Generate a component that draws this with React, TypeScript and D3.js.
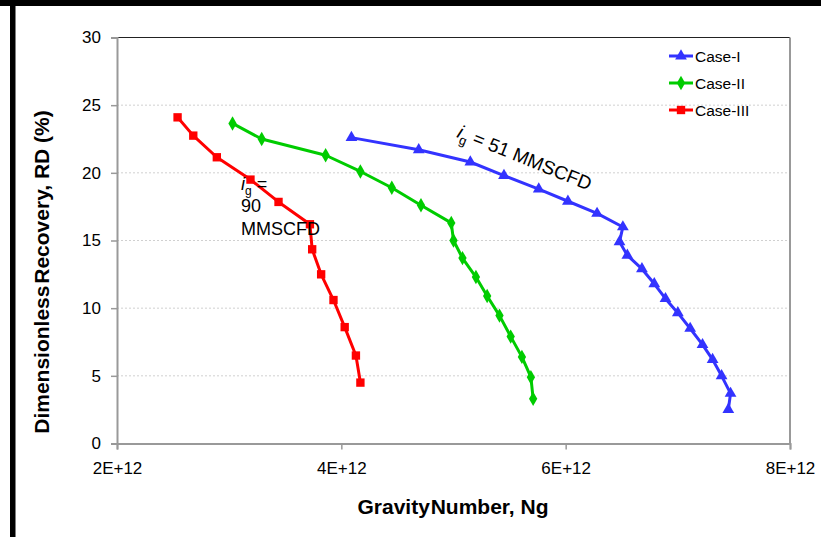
import React, { useEffect, useRef } from "react"
import * as d3 from "d3"

// Gravity number (Ng) and dimensionless recovery (RD, %)
const caseIX = [4.09, 4.69, 5.15, 5.45, 5.76, 6.02, 6.28, 6.51, 6.48, 6.55, 6.68, 6.79, 6.89, 7.0, 7.11, 7.22, 7.31, 7.39, 7.47, 7.45].map((v) => v * 1e12)
const caseIY = [22.6, 21.7, 20.8, 19.8, 18.8, 17.9, 17.0, 16.0, 14.9, 13.9, 12.9, 11.8, 10.7, 9.65, 8.5, 7.3, 6.2, 5.0, 3.7, 2.5]

const caseIIX = [3.03, 3.29, 3.86, 4.17, 4.45, 4.71, 4.98, 5.0, 5.08, 5.2, 5.3, 5.41, 5.51, 5.61, 5.69, 5.71].map((v) => v * 1e12)
const caseIIY = [23.65, 22.5, 21.3, 20.1, 18.9, 17.6, 16.3, 15.0, 13.7, 12.3, 10.9, 9.45, 7.9, 6.4, 4.9, 3.3]

const caseIIIX = [2.54, 2.68, 2.89, 3.19, 3.44, 3.72, 3.74, 3.82, 3.93, 4.03, 4.13, 4.17].map((v) => v * 1e12)
const caseIIIY = [24.1, 22.75, 21.15, 19.5, 17.85, 16.2, 14.35, 12.5, 10.6, 8.6, 6.5, 4.5]

const xTicks = [2e12, 4e12, 6e12, 8e12]
const xTickLabels = ["2E+12", "4E+12", "6E+12", "8E+12"]
const yTicks = [0, 5, 10, 15, 20, 25, 30]

const series = [
    { name: "Case-I", xs: caseIX, ys: caseIY, color: "#3333ff", symbol: d3.symbolTriangle, size: 60 },
    { name: "Case-II", xs: caseIIX, ys: caseIIY, color: "#00cc00", symbol: d3.symbolDiamond, size: 60 },
    { name: "Case-III", xs: caseIIIX, ys: caseIIIY, color: "#ff0000", symbol: d3.symbolSquare, size: 70 },
]

const FONT = "Arial, 'Liberation Sans', sans-serif"

const App = () => {
    const svgRef = useRef(null)

    useEffect(() => {
        const svg = d3.select(svgRef.current)
        svg.selectAll("*").remove()

        const W = 821
        const H = 537
        const plot = { left: 117, right: 790, top: 37.5, bottom: 443.5 }

        svg.append("rect").attr("width", W).attr("height", H).attr("fill", "#fff")
        // black frame bits on top and left
        svg.append("rect").attr("x", 0).attr("y", 0).attr("width", W).attr("height", 6).attr("fill", "#000")
        svg.append("rect").attr("x", 10).attr("y", 0).attr("width", 5.5).attr("height", H).attr("fill", "#000")

        const x = d3.scaleLinear().domain([2e12, 8e12]).range([plot.left, plot.right])
        const y = d3.scaleLinear().domain([0, 30]).range([plot.bottom, plot.top])

        // gridlines
        svg.append("g")
            .selectAll("line")
            .data(yTicks.filter((t) => t > 0 && t < 30))
            .enter()
            .append("line")
            .attr("x1", plot.left)
            .attr("x2", plot.right)
            .attr("y1", (d) => y(d))
            .attr("y2", (d) => y(d))
            .attr("stroke", "#d0d0d0")
            .attr("stroke-width", 1)
            .attr("stroke-dasharray", "2,2")

        // plot border top / right
        svg.append("line").attr("x1", plot.left).attr("x2", plot.right).attr("y1", plot.top).attr("y2", plot.top)
            .attr("stroke", "#222").attr("stroke-width", 1.2)
        svg.append("line").attr("x1", plot.right).attr("x2", plot.right).attr("y1", plot.top).attr("y2", plot.bottom)
            .attr("stroke", "#999").attr("stroke-width", 2)

        // axes
        const yAxis = svg.append("g")
            .attr("transform", "translate(" + plot.left + ",0)")
            .call(d3.axisLeft(y).tickValues(yTicks).tickSize(6).tickPadding(10))
        const xAxis = svg.append("g")
            .attr("transform", "translate(0," + plot.bottom + ")")
            .call(d3.axisBottom(x).tickValues(xTicks).tickSize(6).tickPadding(12).tickFormat((d, i) => xTickLabels[i]))
        ;[yAxis, xAxis].forEach((a) => {
            a.select(".domain").attr("stroke", "#999").attr("stroke-width", 2)
            a.selectAll(".tick line").attr("stroke", "#999").attr("stroke-width", 1.5)
            a.selectAll(".tick text").attr("fill", "#000").attr("font-size", "17px").attr("font-family", FONT)
        })

        // series
        series.forEach((s) => {
            const pts = s.xs.map((v, i) => [v, s.ys[i]])
            svg.append("path")
                .datum(pts)
                .attr("fill", "none")
                .attr("stroke", s.color)
                .attr("stroke-width", 3)
                .attr("stroke-linejoin", "round")
                .attr("d", d3.line().x((d) => x(d[0])).y((d) => y(d[1])))
            svg.append("g")
                .selectAll("path")
                .data(pts)
                .enter()
                .append("path")
                .attr("transform", (d) => "translate(" + x(d[0]) + "," + y(d[1]) + ")")
                .attr("d", d3.symbol().type(s.symbol).size(s.size))
                .attr("fill", s.color)
        })

        // legend
        const legend = svg.append("g").attr("transform", "translate(669,56)")
        series.forEach((s, i) => {
            const g = legend.append("g").attr("transform", "translate(0," + i * 27 + ")")
            g.append("line").attr("x1", 0).attr("x2", 24).attr("stroke", s.color).attr("stroke-width", 3)
            g.append("path").attr("transform", "translate(12,0)")
                .attr("d", d3.symbol().type(s.symbol).size(s.size)).attr("fill", s.color)
            g.append("text").attr("x", 26).attr("y", 5.5).attr("font-size", "15.5px")
                .attr("font-family", FONT).attr("fill", "#000").text(s.name)
        })

        // annotations
        const a1 = svg.append("text")
            .attr("transform", "translate(456,137) rotate(22)")
            .attr("font-size", "19px").attr("font-family", FONT).attr("fill", "#000")
        a1.append("tspan").attr("font-style", "italic").text("i")
        a1.append("tspan").attr("font-size", "13px").attr("dy", 5).text("g")
        a1.append("tspan").attr("dy", -5).text(" = 51 MMSCFD")

        const a2 = svg.append("text").attr("x", 241).attr("y", 190)
            .attr("font-size", "18px").attr("font-family", FONT).attr("fill", "#000")
        a2.append("tspan").attr("font-style", "italic").text("i")
        a2.append("tspan").attr("font-size", "12px").attr("dy", 5).text("g")
        a2.append("tspan").attr("dy", -5).text(" =")
        svg.append("text").attr("x", 241).attr("y", 212).attr("font-size", "18px")
            .attr("font-family", FONT).attr("fill", "#000").text("90")
        svg.append("text").attr("x", 241).attr("y", 235).attr("font-size", "18px")
            .attr("font-family", FONT).attr("fill", "#000").text("MMSCFD")

        // axis titles
        const xt = svg.append("text")
            .attr("x", 453)
            .attr("y", 514)
            .attr("text-anchor", "middle")
            .attr("font-size", "21px")
            .attr("font-weight", "bold")
            .attr("font-family", FONT)
        xt.append("tspan").attr("word-spacing", "-5px").text("Gravity Number,")
        xt.append("tspan").text(" Ng")
        const yt = svg.append("text")
            .attr("transform", "translate(49,272) rotate(-90)")
            .attr("text-anchor", "middle")
            .attr("font-size", "21px")
            .attr("font-weight", "bold")
            .attr("font-family", FONT)
        yt.append("tspan").attr("word-spacing", "-4px").text("Dimensionless Recovery,")
        yt.append("tspan").text(" RD (%)")
    }, [])

    return (
        <div style={{ position: "fixed", left: 0, top: 0 }}>
            <svg ref={svgRef} width={821} height={537} style={{ display: "block" }} />
        </div>
    )
}

export default App
